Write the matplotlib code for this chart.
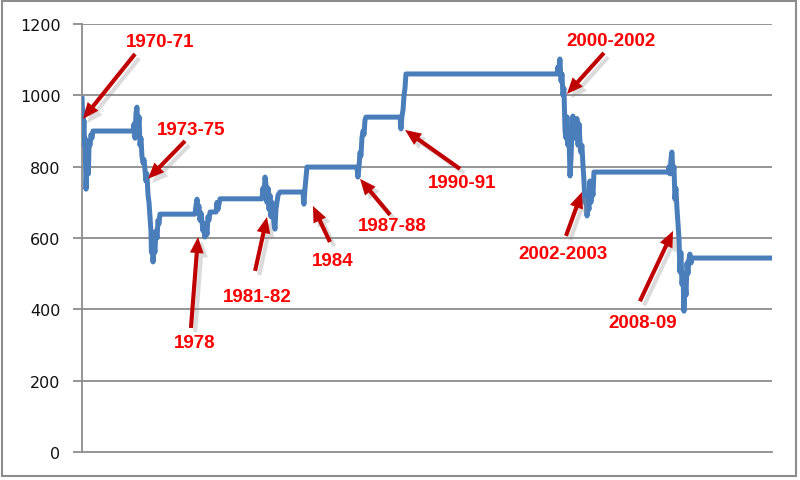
import matplotlib
matplotlib.use("Agg")
import matplotlib.pyplot as plt
import matplotlib.patheffects as pe
from matplotlib.patches import Rectangle

# series (fractional year, value)
years = [1970.00, 1970.03, 1970.06, 1970.09, 1970.12, 1970.16, 1970.19, 1970.22,
         1970.25, 1970.28, 1970.31, 1970.37, 1970.40, 1970.44, 1970.50, 1970.56,
         1970.62, 1970.68,
         1973.17, 1973.24, 1973.30, 1973.36, 1973.42, 1973.48, 1973.55, 1973.61,
         1973.67, 1973.73, 1973.80, 1973.86, 1973.92, 1973.98, 1974.04, 1974.11,
         1974.17, 1974.23, 1974.29, 1974.32, 1974.36, 1974.42, 1974.48, 1974.54,
         1974.60, 1974.67, 1974.73, 1974.79, 1974.85,
         1977.03, 1977.09, 1977.16, 1977.22, 1977.28, 1977.34, 1977.41, 1977.53,
         1977.59, 1977.65, 1977.72, 1977.78, 1977.84, 1977.90, 1977.97,
         1978.34, 1978.40, 1978.46, 1978.59,
         1981.20, 1981.26, 1981.33, 1981.39, 1981.45, 1981.51, 1981.58, 1981.64,
         1981.70, 1981.76, 1981.82, 1981.95, 1982.01, 1982.07, 1982.13, 1982.20,
         1982.32,
         1983.75, 1983.81, 1983.88, 1983.94, 1984.00,
         1987.11, 1987.17, 1987.24, 1987.30, 1987.36, 1987.42, 1987.49, 1987.55,
         1987.61, 1987.67,
         1989.79, 1989.85, 1989.91, 1989.98, 1990.04, 1990.10, 1990.16,
         1999.56, 1999.62, 1999.68, 1999.74, 1999.81, 1999.87, 1999.93, 1999.99,
         2000.06, 2000.12, 2000.18, 2000.24, 2000.30, 2000.37, 2000.43, 2000.49,
         2000.55, 2000.62, 2000.68, 2000.74, 2000.80, 2000.87, 2000.93, 2000.99,
         2001.05, 2001.11, 2001.18, 2001.24, 2001.30, 2001.36, 2001.43, 2001.49,
         2001.55, 2001.61, 2001.67, 2001.74, 2001.80, 2001.86,
         2006.47, 2006.53, 2006.59, 2006.65, 2006.71, 2006.78, 2006.84, 2006.90,
         2006.96, 2007.03, 2007.09, 2007.15, 2007.21, 2007.27, 2007.34, 2007.40,
         2007.46, 2007.52, 2007.59, 2007.65, 2007.71, 2007.77, 2007.83, 2007.90,
         2007.96,
         2012.94]

values = [998, 940, 960, 900, 930, 860, 880, 800,
          737, 780, 820, 850, 780, 870, 860, 890,
          880, 900,
          900, 920, 880, 950, 967, 900, 940, 860,
          880, 830, 810, 820, 790, 760, 780, 720,
          700, 660, 620, 560, 600, 533, 580, 560,
          620, 600, 650, 640, 667,
          667, 690, 709, 680, 690, 650, 670, 620,
          640, 603, 630, 610, 660, 650, 673,
          673, 700, 680, 710,
          710, 740, 720, 771, 750, 700, 740, 680,
          720, 660, 700, 640, 625, 680, 700, 720,
          729,
          729, 695, 740, 770, 799,
          799, 771, 800, 840, 830, 880, 900, 890,
          930, 939,
          939, 906, 940, 960, 1000, 1020, 1060,
          1060, 1080, 1060, 1102, 1040, 1060, 1000, 1020,
          900, 880, 940, 860, 900, 774, 820, 900,
          942, 880, 930, 890, 935, 860, 920, 870,
          840, 860, 802, 760, 700, 720, 662, 700,
          680, 760, 700, 740, 720, 785,
          785, 800, 780, 820, 841, 780, 800, 709,
          740, 680, 640, 600, 505, 560, 470, 500,
          395, 480, 440, 530, 500, 540, 555, 530,
          544,
          544]

labels = ["1970-71", "1973-75", "1978", "1981-82", "1984",
          "1987-88", "1990-91", "2000-2002", "2002-2003", "2008-09"]
label_xy = [(1974.85, 1152), (1976.78, 903), (1977.03, 308), (1980.89, 437),
            (1985.62, 536), (1989.29, 634), (1993.65, 757), (2002.92, 1155),
            (1999.93, 558), (2004.91, 362)]
tail_xy = [(1973.30, 1116), (1976.41, 872), (1976.78, 348), (1980.77, 508),
           (1985.43, 589), (1989.17, 665), (1993.52, 794), (2002.48, 1119),
           (2000.12, 606), (2004.72, 423)]
head_xy = [(1970.06, 934), (1974.11, 766), (1977.22, 603), (1981.51, 659),
           (1984.37, 690), (1987.30, 766), (1990.10, 903), (2000.18, 1004),
           (2001.11, 729), (2006.78, 620)]

grid_col = '#8c8c8c'

fig = plt.figure(figsize=(8, 4.81), dpi=100, facecolor='white')
ax = fig.add_axes([0.1025, 0.058, 0.8625, 0.89])

for yv in range(200, 1400, 200):
    ax.axhline(yv, color=grid_col, lw=1.3, zorder=1)

ax.plot(years, values, color='#4a7ebb', lw=3.6, solid_joinstyle='round',
        solid_capstyle='butt', zorder=3)

shadow = [pe.SimplePatchShadow(offset=(3, -3), shadow_rgbFace='#888888', alpha=0.3),
          pe.Normal()]
for lab, pos, tail, head in zip(labels, label_xy, tail_xy, head_xy):
    ax.annotate("", xy=head, xytext=tail,
                arrowprops=dict(arrowstyle="simple,head_length=1.05,head_width=0.9,tail_width=0.27",
                                mutation_scale=11, color='#c00000', lw=0,
                                shrinkA=0, shrinkB=0, path_effects=shadow),
                zorder=5)
    ax.text(pos[0], pos[1], lab, color='#ff0000', fontsize=13.5, fontweight='bold',
            family='Liberation Sans', ha='center', va='center', zorder=6)

ax.set_xlim(1970.0, 2012.94)
ax.set_ylim(0, 1200)
ax.set_yticks(range(0, 1400, 200))
ax.set_xticks([])
ax.tick_params(axis='y', length=6.5, width=1.3, color=grid_col, pad=9,
               labelsize=11.5, labelcolor='#111111')
for s in ['top', 'right']:
    ax.spines[s].set_visible(False)
for s in ['left', 'bottom']:
    ax.spines[s].set_color(grid_col)
    ax.spines[s].set_linewidth(1.3)

# chart border
fig.patches.append(Rectangle((2 / 800, 4 / 481), 794 / 800, 475 / 481,
                             transform=fig.transFigure, fill=False,
                             edgecolor='#8c8c8c', lw=1.5))

fig.savefig("out.png", dpi=100, facecolor='white')
